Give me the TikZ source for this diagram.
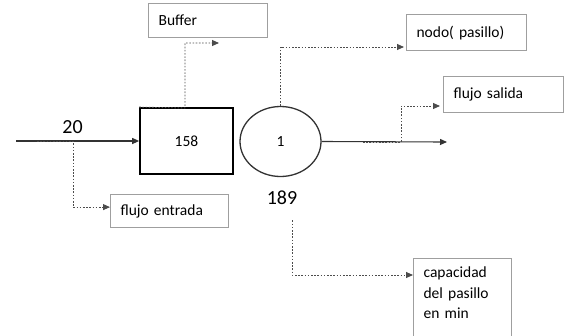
\documentclass[tikz,border=0pt]{standalone}
\usepackage{fontspec}
\setmainfont{Carlito}
\usetikzlibrary{shapes.geometric,arrows.meta}
\begin{document}
\begin{tikzpicture}[x=1pt,y=-1pt,
  lbl/.style={draw=gray!75,line width=1.2pt,rectangle,inner xsep=10pt,align=left,font=\fontsize{15.5}{20.5}\selectfont,anchor=north west},
  dot/.style={draw=black!70,line width=0.9pt,dash pattern=on 1.6pt off 1.6pt},
  arr/.style={-{Triangle[length=7pt,width=6pt]}},
  main/.style={draw=black!80,line width=1.1pt}]
\useasboundingbox (0,0) rectangle (569,335);
\clip (0,0) rectangle (569,335);
% boxes
\node[lbl,minimum width=119pt,minimum height=34pt,text width=99pt] (buffer) at (148,3) {Buffer};
\node[lbl,minimum width=120pt,minimum height=36pt,text width=100pt] (nodo) at (406,14) {nodo( pasillo)};
\node[lbl,minimum width=120pt,minimum height=36pt,text width=100pt] (salida) at (443,76) {flujo salida};
\node[lbl,minimum width=118pt,minimum height=33pt,text width=98pt] (entrada) at (110,194) {flujo entrada};
\node[lbl,minimum width=98pt,minimum height=90pt,text width=78pt,anchor=north west,inner ysep=8pt,text depth=62pt] (cap) at (413,258) {capacidad\\del pasillo\\en min};
% main elements
\node[draw=black,line width=1.7pt,minimum width=93pt,minimum height=66pt,font=\fontsize{15.5}{18}\selectfont] (buf158) at (186.5,141) {158};
\node[ellipse,draw=black!80,line width=1.3pt,minimum width=81pt,minimum height=70pt,inner sep=0pt,font=\fontsize{15.5}{18}\selectfont] (circ) at (280.5,141.5) {1};
\node[font=\fontsize{20}{24}\selectfont] (n20) at (72.5,127) {20};
\node[font=\fontsize{20}{24}\selectfont] (n189) at (282,198) {189};
% main flow
\coordinate (in) at (16,141);
\coordinate (out) at (447,142);
\draw[main,arr] (in) -- (buf158.west);
\draw[main,arr] (circ.east) -- (out);
% dotted connectors
\coordinate (bufarr) at (219,43);
\coordinate (nodoarr) at (404,47);
\coordinate (salarr) at (440,106);
\draw[dot,arr] (37,141) -- (73,141) |- ([yshift=4pt]entrada.west);
\draw[dot,arr] (buf158.north west) -- (185,108) |- (bufarr);
\draw[dot,arr] (circ.north) |- (nodoarr);
\draw[dot,arr] (363,142) -- (401,142) |- (salarr);
\draw[dot,arr] ([yshift=-12pt,xshift=10pt]n189.south) |- ([yshift=-17pt]cap.north west);
\end{tikzpicture}
\end{document}
